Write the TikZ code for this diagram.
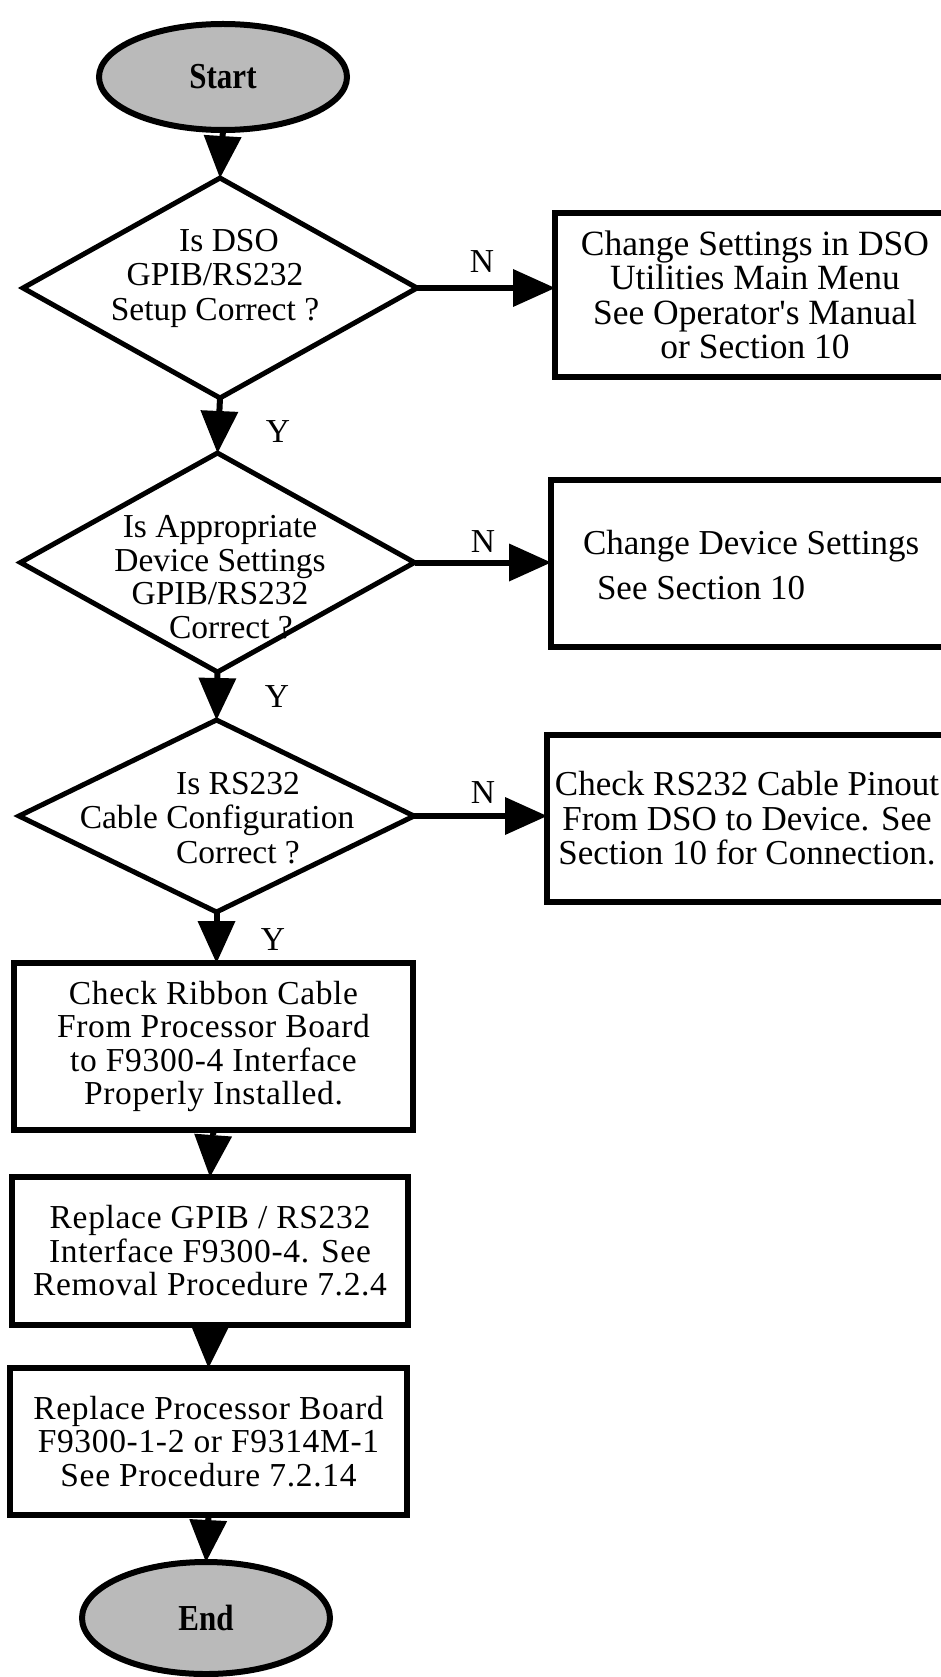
\documentclass[tikz,border=0pt]{standalone}
\usepackage{fontspec}
\setmainfont{Liberation Serif}
\usetikzlibrary{shapes.geometric,arrows.meta,calc}
\begin{document}
\begin{tikzpicture}[x=1pt,y=-1pt,
  every node/.style={outer sep=0pt, inner sep=0pt},
  tf/.style={font=\fontsize{33.5}{34.5}\selectfont, align=center},
  term/.style={ellipse, draw, line width=6pt, fill=black!27, minimum width=248pt, font=\bfseries\fontsize{31}{31}\selectfont},
  dia/.style={diamond, draw, line width=5pt},
  box/.style={rectangle, draw, line width=5.5pt, tf},
  sidetxt/.style={font=\fontsize{35}{34.5}\selectfont},
  wide/.style={font=\fontsize{33.5}{33.5}\selectfont\addfontfeature{LetterSpace=2}},
  conn/.style={line width=6pt, -{Triangle[length=42pt,width=38pt,line width=0pt]}},
  lbl/.style={font=\fontsize{33.5}{34.5}\selectfont}
]
\useasboundingbox (0,0) rectangle (941,1677);

% terminals
\node[term, minimum height=106pt] (start) at (223,77) {\scalebox{1}[1.18]{Start}};
\node[term, minimum height=112pt] (end) at (206,1618) {\scalebox{1}[1.18]{End}};

% decisions
\node[dia, minimum width=394pt, minimum height=220pt] (d1) at (220,288) {};
\node[tf] (d1t) at (215,278) {\hspace*{28pt}Is DSO\\GPIB/RS232\\Setup Correct ?};

\node[dia, minimum width=394pt, minimum height=219pt] (d2) at (217.5,562.5) {};
\node[tf, font=\fontsize{33.5}{33.5}\selectfont] (d2t) at (220,577) {Is Appropriate\\Device Settings\\GPIB/RS232\\\hspace*{22pt}Correct ?};

\node[dia, minimum width=395pt, minimum height=192pt] (d3) at (216.5,816) {};
\node[tf] (d3t) at (217,818) {\hspace*{42pt}Is RS232\\Cable Configuration\\\hspace*{42pt}Correct ?};

% side boxes
\node[box, sidetxt, font=\fontsize{35.5}{34.5}\selectfont, minimum width=400pt, minimum height=164pt] (b1) at (755,295) {Change Settings in DSO\\Utilities Main Menu\\See Operator\textquotesingle s Manual\\or Section 10};
\node[box, minimum width=400pt, minimum height=167pt] (b2) at (751,563.5) {};
\node[sidetxt, align=left, anchor=west] (b2t) at (583,565) {Change Device Settings\\[10pt]\hspace*{14pt}See Section 10};
\node[box, sidetxt, minimum width=400pt, minimum height=167pt] (b3) at (747,818.5) {Check RS232 Cable Pinout\\From DSO to Device. See\\Section 10 for Connection.};

% main column boxes
\node[box, wide, minimum width=399pt, minimum height=167pt] (bA) at (213.5,1046.5) {Check Ribbon Cable\\From Processor Board\\to F9300-4 Interface\\Properly Installed.};
\node[box, wide, minimum width=396pt, minimum height=148pt] (bB) at (210,1251) {Replace GPIB / RS232\\Interface F9300-4. See\\Removal Procedure 7.2.4};
\node[box, wide, minimum width=397pt, minimum height=147pt] (bC) at (208.5,1441.5) {Replace Processor Board\\F9300-1-2 or F9314M-1\\See Procedure 7.2.14};

% connectors
\draw[conn] (start.south) -- (d1.north);
\draw[conn] (d1.east) -- (d1.east -| b1.west);
\draw[conn] (d1.south) -- (d2.north);
\draw[conn] (d2.east) -- (d2.east -| b2.west);
\draw[conn] (d2.south) -- (d3.north);
\draw[conn] (d3.east) -- (d3.east -| b3.west);
\draw[conn] (d3.south) -- (d3.south |- bA.north);
\draw[conn] (bA.south) -- (bB.north);
\draw[conn] (bB.south) -- (bC.north);
\draw[conn] (bC.south) -- (end.north);

% labels
\node[lbl] (n1) at (482,262) {N};
\node[lbl] (n2) at (483,542) {N};
\node[lbl] (n3) at (483,793) {N};
\node[lbl] (y1) at (278,432) {Y};
\node[lbl] (y2) at (277,697) {Y};
\node[lbl] (y3) at (273,940) {Y};
\end{tikzpicture}
\end{document}
